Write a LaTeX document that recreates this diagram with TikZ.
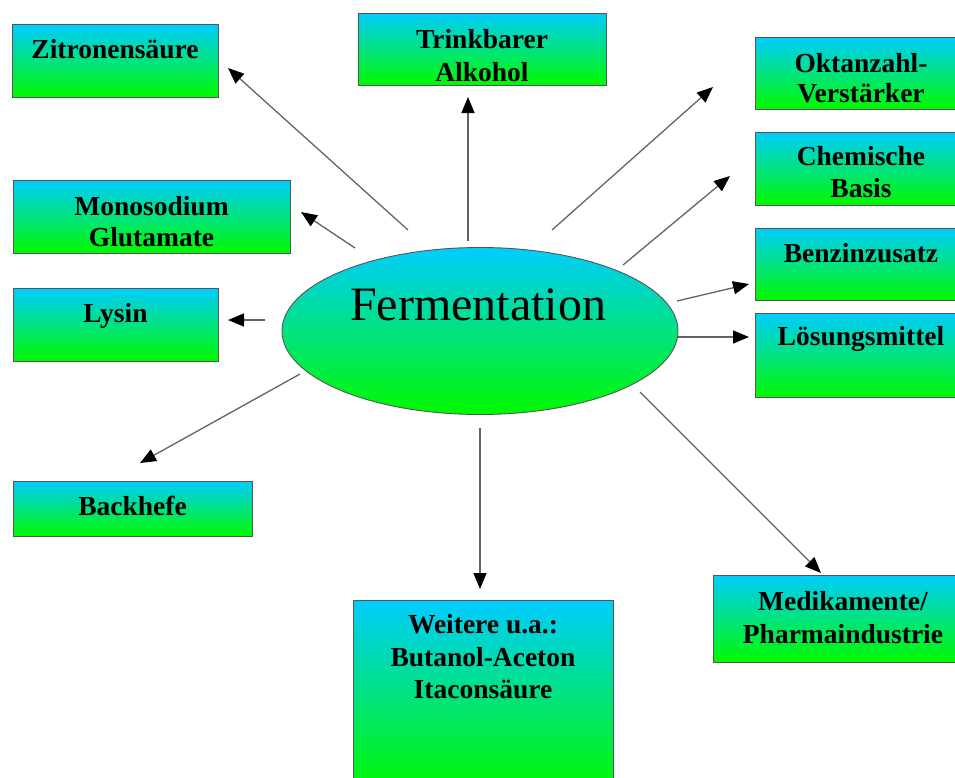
\documentclass[tikz,border=0pt]{standalone}
\usepackage{fontspec}
\setmainfont{Liberation Serif}
\usetikzlibrary{shapes.geometric,arrows.meta}
\definecolor{topc}{RGB}{0,204,255}
\definecolor{botc}{RGB}{0,250,0}
\definecolor{edgec}{RGB}{85,85,85}
\definecolor{linec}{RGB}{100,100,100}
\tikzset{
  box/.style={rectangle, draw=edgec, line width=0.9pt, inner sep=0pt, top color=topc, bottom color=botc},
  lbl/.style={anchor=base, inner sep=0pt, font=\fontsize{27.5}{30}\selectfont\bfseries, text=black},
  arr/.style={draw=linec, line width=1.3pt, -{Triangle[length=16pt,width=13pt,color=black]}},
}
\begin{document}
\begin{tikzpicture}[x=1pt,y=-1pt]
\clip (0,0) rectangle (955,777);
\fill[white] (0,0) rectangle (955,777);
% boxes
\node[box, minimum width=206, minimum height=73] (zit) at (115,60.5) {};
\node[lbl] (zitT) at (115,58) {Zitronensäure};
\node[box, minimum width=248, minimum height=72] (trink) at (482,49) {};
\node[lbl] (trinkT1) at (482,48) {Trinkbarer};
\node[lbl] (trinkT2) at (482,81) {Alkohol};
\node[box, minimum width=212, minimum height=72] (okt) at (861,73) {};
\node[lbl] (oktT1) at (861,72) {Oktanzahl-};
\node[lbl] (oktT2) at (861,102) {Verstärker};
\node[box, minimum width=212, minimum height=73] (chem) at (861,168.5) {};
\node[lbl] (chemT1) at (861,165) {Chemische};
\node[lbl] (chemT2) at (861,197) {Basis};
\node[box, minimum width=212, minimum height=72] (benz) at (861,264) {};
\node[lbl] (benzT) at (861,262) {Benzinzusatz};
\node[box, minimum width=212, minimum height=84] (loes) at (861,355) {};
\node[lbl] (loesT) at (861,345) {Lösungsmittel};
\node[box, minimum width=277, minimum height=73] (mono) at (151.5,216.5) {};
\node[lbl] (monoT1) at (151.5,215) {Monosodium};
\node[lbl] (monoT2) at (151.5,246) {Glutamate};
\node[box, minimum width=205, minimum height=73] (lys) at (115.5,324.5) {};
\node[lbl] (lysT) at (115.5,322) {Lysin};
\node[box, minimum width=239, minimum height=55] (back) at (132.5,508.5) {};
\node[lbl] (backT) at (132.5,515) {Backhefe};
\node[box, minimum width=260, minimum height=190] (weit) at (483,695) {};
\node[lbl] (weitT1) at (483,633) {Weitere u.a.:};
\node[lbl] (weitT2) at (483,666) {Butanol-Aceton};
\node[lbl] (weitT3) at (483,698) {Itaconsäure};
\node[box, minimum width=260, minimum height=87] (med) at (843,618.5) {};
\node[lbl] (medT1) at (843,610) {Medikamente/};
\node[lbl] (medT2) at (843,643) {Pharmaindustrie};
% ellipse
\node[ellipse, draw=edgec, line width=0.9pt, inner sep=0pt, top color=topc, bottom color=botc,
      minimum width=396, minimum height=167] (ferm) at (480,331) {};
\node[anchor=base, inner sep=0pt, font=\fontsize{48}{52}\selectfont] (fermT) at (478,320) {Fermentation};
% connector end points
\coordinate (s1) at (408,230);  \coordinate (e1) at (228,68);
\coordinate (s2) at (468,241);  \coordinate (e2) at (468,97);
\coordinate (s3) at (552,230);  \coordinate (e3) at (713,87);
\coordinate (s4) at (623,265);  \coordinate (e4) at (730,176);
\coordinate (s5) at (677,301);  \coordinate (e5) at (749,284);
\coordinate (s6) at (678,337);  \coordinate (e6) at (749,337);
\coordinate (s7) at (355,248);  \coordinate (e7) at (301,212);
\coordinate (s8) at (265,320);  \coordinate (e8) at (228,320);
\coordinate (s9) at (300,374);  \coordinate (e9) at (140,463);
\coordinate (s10) at (480,428); \coordinate (e10) at (480,589);
\coordinate (s11) at (640,392); \coordinate (e11) at (821,573);
\foreach \i in {1,...,11} {\draw[arr] (s\i) -- (e\i);}
\end{tikzpicture}
\end{document}
